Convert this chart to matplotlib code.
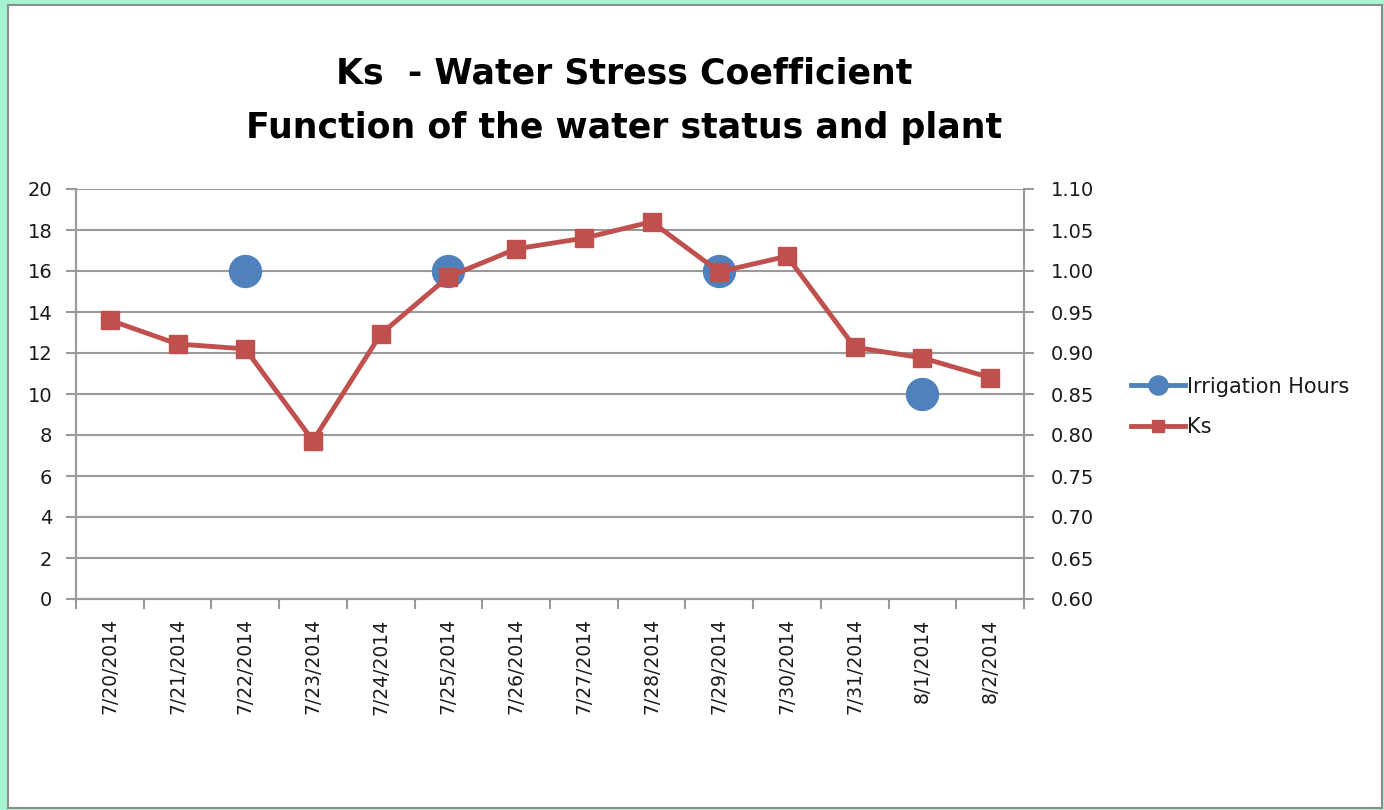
import numpy as np
import matplotlib.pyplot as plt
from matplotlib.patches import Rectangle

dates = ['7/20/2014', '7/21/2014', '7/22/2014', '7/23/2014', '7/24/2014',
         '7/25/2014', '7/26/2014', '7/27/2014', '7/28/2014', '7/29/2014',
         '7/30/2014', '7/31/2014', '8/1/2014', '8/2/2014']
irrigation_hours = [np.nan, np.nan, 16, np.nan, np.nan, 16, np.nan, np.nan,
                    np.nan, 16, np.nan, np.nan, 10, np.nan]
ks = [0.940, 0.911, 0.905, 0.793, 0.923, 0.993, 1.027, 1.040, 1.060, 0.999,
      1.018, 0.907, 0.894, 0.870]

blue = '#4F81BD'
red = '#C0504D'
grid_gray = '#9a9a9a'
text_col = '#1a1a1a'

fig = plt.figure(figsize=(13.84, 8.10), dpi=100)
fig.patch.set_facecolor('#a6f5d2')
# white chart area with a gray border, like the Excel chart frame
fig.patches.append(Rectangle((8 / 1384, 2 / 810), 1374 / 1384, 803 / 810,
                             transform=fig.transFigure, facecolor='white',
                             edgecolor='#8c8c8c', linewidth=1.5, zorder=-10))

ax = fig.add_axes([76 / 1384, 1 - 599 / 810, 948 / 1384, 410 / 810])
ax2 = ax.twinx()

x = np.arange(len(dates))
ax.plot(x, irrigation_hours, color=blue, linewidth=3.5, marker='o',
        markersize=23, label='Irrigation Hours', zorder=3)
ax2.plot(x, ks, color=red, linewidth=3.5, marker='s', markersize=13.5,
         label='Ks', zorder=3)

ax.set_xlim(-0.5, len(dates) - 0.5)
ax.set_ylim(0, 20)
ax.set_yticks(np.arange(0, 21, 2))
ax2.set_ylim(0.60, 1.10)
ax2.set_yticks(np.arange(0.60, 1.101, 0.05))
ax2.set_yticklabels(['{:.2f}'.format(v) for v in np.arange(0.60, 1.101, 0.05)])

ax.set_xticks(x)
ax.set_xticklabels(dates, rotation=90)
ax.set_xticks(np.arange(-0.5, len(dates), 1), minor=True)
ax.tick_params(axis='x', which='major', length=0, pad=14)
ax.tick_params(axis='x', which='minor', length=7, width=1.5, color=grid_gray)
ax.tick_params(axis='y', length=7, width=1.5, color=grid_gray, pad=10)
ax2.tick_params(axis='y', length=7, width=1.5, color=grid_gray, pad=12)
for lab in ax.get_xticklabels():
    lab.set_fontsize(13.5)
    lab.set_color(text_col)
for a in (ax, ax2):
    for lab in a.get_yticklabels():
        lab.set_fontsize(14)
        lab.set_color(text_col)

ax.grid(axis='y', color=grid_gray, linewidth=1.5)
ax.set_axisbelow(True)
for a in (ax, ax2):
    a.spines['top'].set_visible(False)
    for s in ('left', 'right', 'bottom'):
        a.spines[s].set_color(grid_gray)
        a.spines[s].set_linewidth(1.5)
ax.patch.set_visible(False)
ax2.patch.set_visible(False)

fig.text(624 / 1384, 1 - 73 / 810, 'Ks  - Water Stress Coefficient',
         ha='center', va='center', fontsize=25, fontweight='bold', color='black')
fig.text(624 / 1384, 1 - 128 / 810, 'Function of the water status and plant',
         ha='center', va='center', fontsize=25, fontweight='bold', color='black')

h1, l1 = ax.get_legend_handles_labels()
h2, l2 = ax2.get_legend_handles_labels()
leg = fig.legend(h1 + h2, l1 + l2, loc='center left',
                 bbox_to_anchor=(1112 / 1384, 1 - 407 / 810), frameon=False,
                 fontsize=15, markerscale=0.6, handlelength=2.6,
                 handletextpad=0.1, labelspacing=1.0)
for t in leg.get_texts():
    t.set_color(text_col)

fig.savefig('out.png', dpi=100, facecolor=fig.get_facecolor())
